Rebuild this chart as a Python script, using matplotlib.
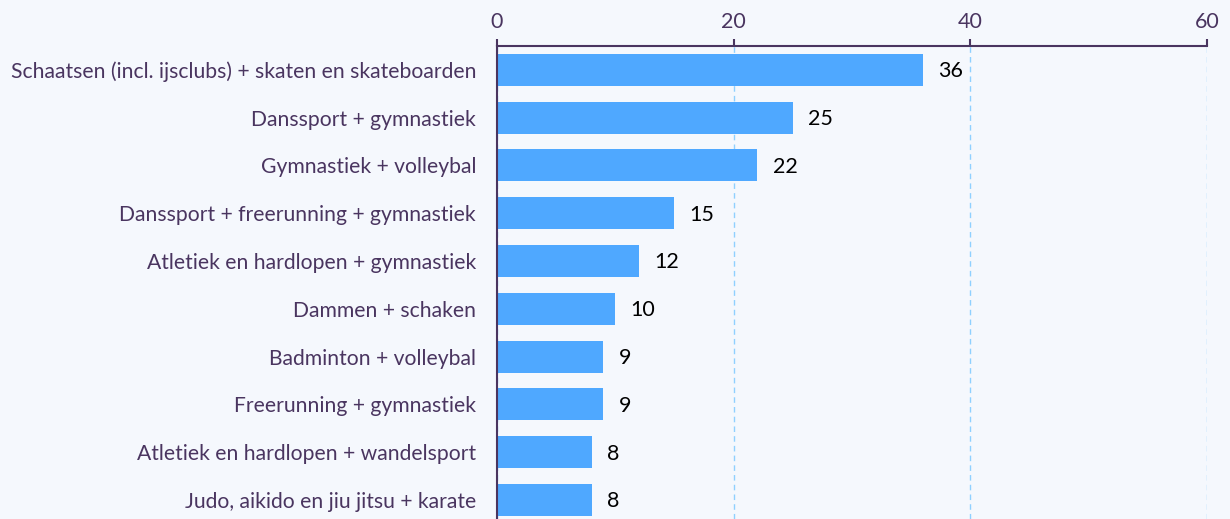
import matplotlib.pyplot as plt

categories = [
    "Schaatsen (incl. ijsclubs) + skaten en skateboarden",
    "Danssport + gymnastiek",
    "Gymnastiek + volleybal",
    "Danssport + freerunning + gymnastiek",
    "Atletiek en hardlopen + gymnastiek",
    "Dammen + schaken",
    "Badminton + volleybal",
    "Freerunning + gymnastiek",
    "Atletiek en hardlopen + wandelsport",
    "Judo, aikido en jiu jitsu + karate",
]
values = [36, 25, 22, 15, 12, 10, 9, 9, 8, 8]
x_ticks = [0, 20, 40, 60]

bg = "#f5f8fd"
purple = "#4a3560"
bar_color = "#4fa8ff"

plt.rcParams["font.family"] = ["Lato", "DejaVu Sans"]

fig = plt.figure(figsize=(12.3, 5.19), dpi=100, facecolor=bg)
ax = fig.add_axes([0.404, 0.0, 0.5772, 0.9114], facecolor=bg)

y = list(range(len(categories)))
ax.barh(y, values, height=0.67, color=bar_color, zorder=3)
for yi, v in zip(y, values):
    ax.text(v + 1.3, yi + 0.03, str(v), va="center", ha="left", fontsize=15.5, color="black", zorder=4)

ax.set_xlim(0, 60)
ax.set_ylim(9.4, -0.5)
ax.set_xticks(x_ticks)
ax.xaxis.tick_top()
ax.set_yticks(y)
ax.set_yticklabels(categories)
ax.tick_params(axis="x", colors=purple, labelsize=15.5, length=5, width=1.5, pad=5, labelcolor=purple)
ax.tick_params(axis="y", length=0, labelsize=15.2, labelcolor=purple, pad=15)

ax.grid(True, axis="x", color="#8fd0ff", linestyle=(0, (4, 3)), linewidth=1, zorder=1)
for side in ["right", "bottom"]:
    ax.spines[side].set_visible(False)
for side in ["top", "left"]:
    ax.spines[side].set_color(purple)
    ax.spines[side].set_linewidth(1.5)
    ax.spines[side].set_zorder(5)

fig.savefig("out.png", dpi=100, facecolor=bg)
